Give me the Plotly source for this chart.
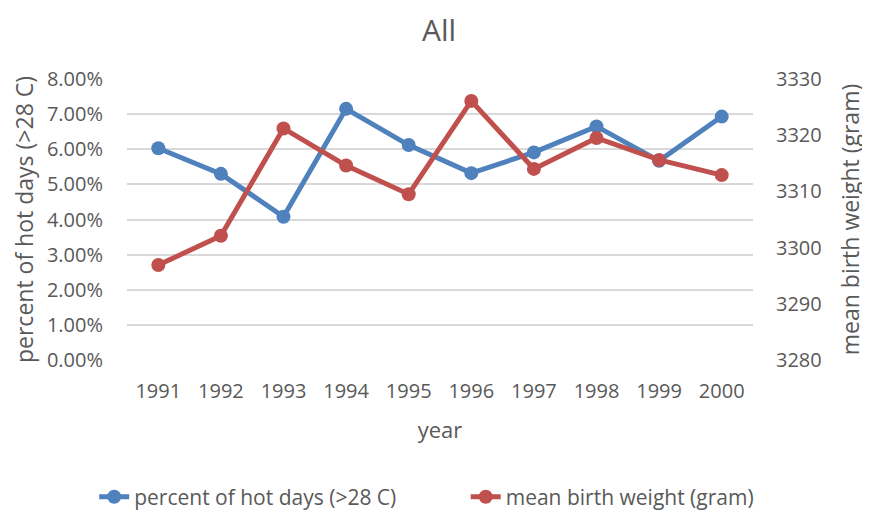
import plotly.graph_objects as go

years = ["1991", "1992", "1993", "1994", "1995", "1996", "1997", "1998", "1999", "2000"]
hot_days_pct = [6.03, 5.30, 4.08, 7.15, 6.12, 5.32, 5.91, 6.65, 5.67, 6.93]
birth_weight = [3296.9, 3302.1, 3321.2, 3314.6, 3309.5, 3326.1, 3314.0, 3319.5, 3315.6, 3312.9]

FONT = "Open Sans, sans-serif"
GREY = "#595959"

fig = go.Figure()
fig.add_trace(go.Scatter(
    x=years, y=[v / 100 for v in hot_days_pct], name="percent of hot days (>28 C)",
    mode="lines+markers", line=dict(color="#4F81BD", width=5),
    marker=dict(size=14, color="#4F81BD"), legend="legend"))
fig.add_trace(go.Scatter(
    x=years, y=birth_weight, name="mean birth weight (gram)", yaxis="y2",
    mode="lines+markers", line=dict(color="#C0504D", width=5),
    marker=dict(size=14, color="#C0504D"), legend="legend2"))

# page body has an 8px margin, so the figure is a bit smaller than the window
fig.update_layout(
    width=862, height=510,
    margin=dict(l=119, r=117, t=71, b=158),
    plot_bgcolor="white", paper_bgcolor="white",
    font=dict(family=FONT, color=GREY, size=20),
    title=dict(text="All", x=0.5, xanchor="center", y=0.955, yanchor="middle",
               font=dict(size=30, color=GREY)),
    xaxis=dict(type="category", range=[-0.5, 9.5], showgrid=False, showline=False,
               ticks="", tickfont=dict(size=20), automargin=False, ticklabelstandoff=17,
               title=dict(text="year", font=dict(size=22), standoff=19)),
    yaxis=dict(range=[0, 0.08], dtick=0.01, tickformat=".2%", gridcolor="#D9D9D9",
               gridwidth=1.5, zeroline=False, ticks="", ticklabelstandoff=23,
               automargin=False, tickfont=dict(size=20),
               title=dict(text="percent of hot days (>28 C)", font=dict(size=23), standoff=12)),
    yaxis2=dict(range=[3280, 3330], dtick=10, overlaying="y", side="right",
                showgrid=False, zeroline=False, ticks="", ticklabelstandoff=22,
                automargin=False, tickfont=dict(size=20),
                title=dict(text="mean birth weight (gram)", font=dict(size=23), standoff=22)),
    legend=dict(orientation="h", x=0.1, xanchor="left", xref="container",
                y=0.041, yref="container", yanchor="middle", font=dict(size=21)),
    legend2=dict(orientation="h", x=0.531, xanchor="left", xref="container",
                 y=0.041, yref="container", yanchor="middle", font=dict(size=21)),
    showlegend=True,
)

fig.write_html("out.html")
